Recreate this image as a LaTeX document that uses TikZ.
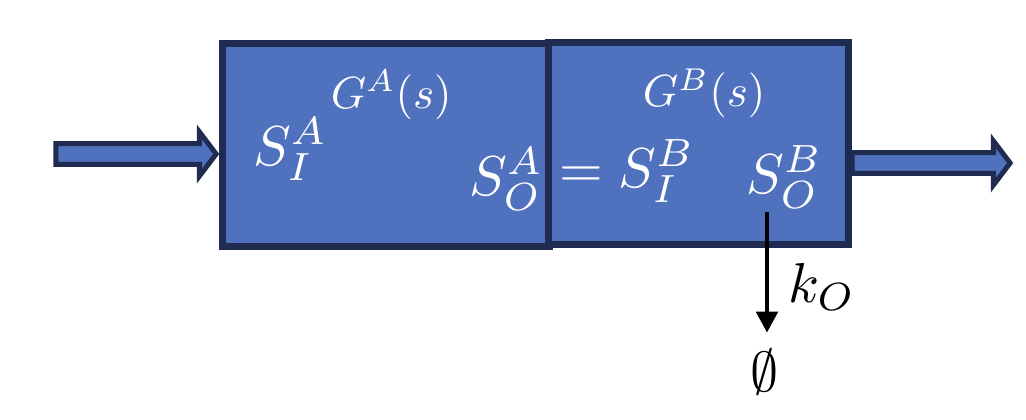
\documentclass[tikz,border=0pt]{standalone}
\usepackage{amssymb}
\usepackage{amsmath}
\usepackage{tikz}
\usetikzlibrary{calc,arrows.meta}
\definecolor{boxblue}{HTML}{4F71BE}
\definecolor{boxedge}{HTML}{1F2B50}
\tikzset{
	block/.style={draw=boxedge, fill=boxblue, line width=5.3pt, inner sep=0pt},
	fatarrow/.style={draw=boxedge, fill=boxblue, line width=3.5pt, line join=miter},
	bigmath/.style={text=white, inner sep=0pt, scale=4},
	smallmath/.style={text=white, inner sep=0pt, scale=3.2},
	blackmath/.style={text=black, inner sep=0pt, scale=4},
}
\def\drawFatArrow#1#2{
\draw[fatarrow] let \p1=(#1), \p2=(#2) in
	(\x1,\y1+7.4pt) -- (\x2-14pt,\y1+7.4pt) -- (\x2-14pt,\y1+15.8pt) -- (\x2-2pt,\y1)
	-- (\x2-14pt,\y1-15.8pt) -- (\x2-14pt,\y1-7.4pt) -- (\x1,\y1-7.4pt) -- cycle;
}

\begin{document}
\begin{tikzpicture}[x=0.025cm, y=-0.025cm]
	\useasboundingbox (0,0) rectangle (1026,420);
	\node[block, minimum width=8.16cm, minimum height=5.06cm] (boxA) at (386,145) {};
	\node[block, minimum width=7.49cm, minimum height=5.04cm] (boxB) at (698.5,143.5) {};
	\coordinate (inL) at (55.8,154);
	\coordinate (outR) at (1013,163);
	\drawFatArrow{inL}{boxA.west |- inL}
	\drawFatArrow{boxB.east |- outR}{outR}
	\node[smallmath, anchor=base west] (gA) at (330,108) {$G^A(s)$};
	\node[bigmath, anchor=base west] (sIA) at (252,165) {$S_I^A$};
	\node[bigmath, anchor=base west] (sOA) at (468,195) {$S_O^A$};
	\node[bigmath, anchor=base west] (sIB) at (558,187) {$= S_I^B$};
	\node[smallmath, anchor=base west] (gB) at (642,107) {$G^B(s)$};
	\node[bigmath, anchor=base west] (sOB) at (745,193) {$S_O^B$};
	\node[blackmath, anchor=base west] (ko) at (787,302) {$k_O$};
	\node[blackmath] (emptyset) at (765,372) {$\emptyset$};
	\coordinate (drain) at (767,212);
	\draw[line width=3.5pt, -{Triangle[length=15pt,width=15pt]}, shorten >=11pt] (drain) -- (drain |- emptyset.north);
\end{tikzpicture}
\end{document}
